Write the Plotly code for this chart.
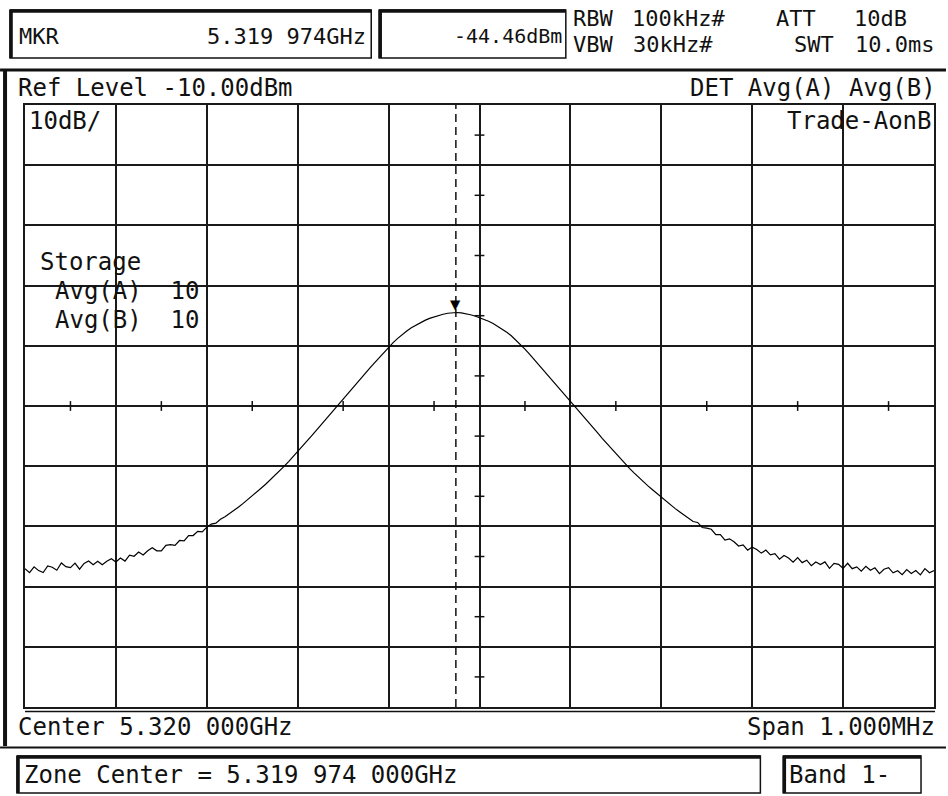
import numpy as np
import plotly.graph_objects as go

# ---------------- data ----------------
CENTER_GHZ = 5.320
SPAN_MHZ = 1.000
N_POINTS = 201
REF_LEVEL_DBM = -10.0
DB_PER_DIV = 10.0
N_DIV = 10

marker_freq_ghz = 5.319974
marker_level_dbm = -44.46

levels_dbm = [
    -87.04, -87.69, -86.71, -87.34, -87.66, -86.58, -86.78, -87.28, -86.08, -86.69,
    -86.84, -86.09, -87.11, -86.14, -85.76, -86.38, -85.78, -86.38, -85.78, -85.37,
    -85.92, -85.26, -85.76, -84.76, -84.96, -84.26, -84.76, -84.06, -83.56, -84.06,
    -84.06, -83.14, -83.04, -83.14, -82.34, -82.42, -81.52, -81.52, -80.82, -80.92,
    -80.12, -79.61, -79.46, -78.80, -78.40, -77.89, -77.34, -76.78, -76.18, -75.57,
    -74.92, -74.27, -73.62, -72.96, -72.26, -71.55, -70.80, -70.04, -69.24, -68.43,
    -67.58, -66.73, -65.88, -65.02, -64.12, -63.23, -62.38, -61.52, -60.62, -59.73,
    -58.88, -58.02, -57.12, -56.22, -55.32, -54.43, -53.58, -52.74, -51.88, -51.04,
    -50.24, -49.46, -48.76, -48.09, -47.54, -47.01, -46.56, -46.13, -45.78, -45.45,
    -45.20, -44.96, -44.76, -44.59, -44.52, -44.47, -44.54, -44.64, -44.84, -45.05,
    -45.30, -45.57, -45.92, -46.29, -46.74, -47.21, -47.76, -48.34, -49.04, -49.76,
    -50.56, -51.37, -52.22, -53.07, -53.92, -54.78, -55.68, -56.58, -57.48, -58.37,
    -59.22, -60.08, -60.98, -61.87, -62.72, -63.58, -64.48, -65.37, -66.22, -67.07,
    -67.92, -68.76, -69.56, -70.35, -71.10, -71.84, -72.54, -73.23, -73.88, -74.53,
    -75.18, -75.82, -76.42, -77.01, -77.56, -78.10, -78.50, -79.19, -79.34, -80.18,
    -80.28, -80.48, -81.38, -81.38, -82.28, -82.06, -82.56, -83.26, -83.06, -83.94,
    -83.44, -83.84, -84.44, -83.94, -84.74, -84.54, -85.44, -84.84, -85.24, -85.93,
    -85.18, -86.02, -85.62, -86.52, -85.92, -86.32, -85.89, -86.97, -86.14, -86.31,
    -86.96, -86.12, -87.02, -86.72, -87.42, -86.62, -87.29, -86.87, -87.84, -87.12,
    -86.86, -87.71, -87.36, -88.01, -87.16, -87.81, -87.33, -88.05, -87.02, -87.70,
    -87.35,
]

# header setting words (line 1 / line 2)
setting_line1 = ["RBW", "100kHz#", "ATT", "10dB"]
setting_line2 = ["VBW", "30kHz#", "SWT", "10.0ms"]

labels = {
    "mkr_label": "MKR",
    "mkr_freq": "5.319 974GHz",
    "mkr_level": "-44.46dBm",
    "ref": "Ref Level -10.00dBm",
    "det": "DET Avg(A) Avg(B)",
    "scale": "10dB/",
    "trace": "Trade-AonB",
    "storage": "Storage",
    "avga": "Avg(A)  10",
    "avgb": "Avg(B)  10",
    "center": "Center 5.320 000GHz",
    "span": "Span 1.000MHz",
    "zone": "Zone Center = 5.319 974 000GHz",
    "band": "Band 1-",
}

# ---------------- derived ----------------
center_mhz = CENTER_GHZ * 1000.0
f_lo = center_mhz - SPAN_MHZ / 2
f_hi = center_mhz + SPAN_MHZ / 2
freqs_mhz = np.linspace(f_lo, f_hi, N_POINTS)
y_top = REF_LEVEL_DBM
y_bot = REF_LEVEL_DBM - DB_PER_DIV * N_DIV
mk_mhz = marker_freq_ghz * 1000.0

W, H = 948, 796
X0, X1, Y0, Y1 = 25, 936, 105, 707


def px(x):
    return (x - X0) / (X1 - X0)


def py(y):
    return (Y1 - y) / (Y1 - Y0)


INK = "#111111"
FONT = "DejaVu Sans Mono"

fig = go.Figure()

fig.add_trace(go.Scatter(
    x=freqs_mhz, y=levels_dbm, mode="lines",
    line=dict(color="#000000", width=1.2), hoverinfo="skip", showlegend=False,
))

# graticule centre-line ticks (at half divisions)
div_f = SPAN_MHZ / N_DIV
half_f = [f_lo + div_f * (i + 0.5) for i in range(N_DIV)]
half_y = [y_bot + DB_PER_DIV * (i + 0.5) for i in range(N_DIV)]
fig.add_trace(go.Scatter(
    x=half_f, y=[y_bot + DB_PER_DIV * N_DIV / 2] * N_DIV, mode="markers",
    marker=dict(symbol="line-ns", size=7, line=dict(color=INK, width=1.5)),
    hoverinfo="skip", showlegend=False,
))
fig.add_trace(go.Scatter(
    x=[center_mhz] * N_DIV, y=half_y, mode="markers",
    marker=dict(symbol="line-ew", size=7, line=dict(color=INK, width=1.5)),
    hoverinfo="skip", showlegend=False,
))

shapes = []
# marker dashed line
shapes.append(dict(type="line", xref="x", yref="y", x0=mk_mhz, x1=mk_mhz, y0=y_bot, y1=y_top,
                   line=dict(color=INK, width=1.5, dash="8px,5px")))


def hline(y, xa, xb, w):
    shapes.append(dict(type="line", xref="paper", yref="paper", x0=px(xa), x1=px(xb),
                       y0=py(y), y1=py(y), line=dict(color=INK, width=w)))


def vline(x, ya, yb, w):
    shapes.append(dict(type="line", xref="paper", yref="paper", x0=px(x), x1=px(x),
                       y0=py(ya), y1=py(yb), line=dict(color=INK, width=w)))


def box(xa, ya, xb, yb):
    shapes.append(dict(type="rect", xref="paper", yref="paper", x0=px(xa), x1=px(xb),
                       y0=py(yb), y1=py(ya), line=dict(color=INK, width=1.5)))
    hline(ya + 1, xa, xb, 3.5)
    vline(xa + 1, ya, yb, 3.5)


# frame
box(10, 10, 372, 58)
box(380, 10, 567, 58)
hline(70, 0, 948, 3)
vline(5, 69, 746, 4)
hline(711.5, 25, 937, 1.5)
hline(747.5, 0, 948, 2)
box(17, 756, 762, 793)
box(785, 756, 923, 793)

annotations = []


def txt(s, x, y, anchor="left", size=24):
    annotations.append(dict(text=s, xref="paper", yref="paper", x=px(x), y=py(y),
                            xanchor=anchor, yanchor="middle", showarrow=False,
                            font=dict(family=FONT, size=size, color=INK)))


L = labels
txt(L["mkr_label"], 17, 36, size=22)
txt(L["mkr_freq"], 369, 36, anchor="right", size=22)
txt(L["mkr_level"], 565, 36, anchor="right", size=20)

# header settings, each word centred in its column
line1_cx = [594, 680, 798, 882]
line2_cx = [594, 674, 816, 896]
for i, word in enumerate(setting_line1):
    txt(word, line1_cx[i], 18.5, anchor="center", size=22)
for i, word in enumerate(setting_line2):
    txt(word, line2_cx[i], 44.5, anchor="center", size=22)

txt(L["ref"], 16, 88)
txt(L["det"], 940, 88, anchor="right")
txt(L["scale"], 27, 121)
txt(L["trace"], 936, 121, anchor="right")
txt(L["storage"], 38, 262)
txt(L["avga"], 53, 291)
txt(L["avgb"], 53, 320)
txt(L["center"], 16, 727)
txt(L["span"], 939, 727, anchor="right")
txt(L["zone"], 22, 775)
txt(L["band"], 789, 775)

# marker triangle
annotations.append(dict(text="\u25BC", xref="x", yref="y", x=mk_mhz, y=marker_level_dbm,
                        xanchor="center", yanchor="bottom", showarrow=False, yshift=-4,
                        font=dict(family=FONT, size=17, color="#000000")))

axis_common = dict(showgrid=True, gridcolor="#1a1a1a", gridwidth=2, zeroline=False,
                   showline=True, linecolor="#1a1a1a", linewidth=2, mirror=True,
                   showticklabels=False, ticks="", fixedrange=True)

fig.update_layout(
    width=W, height=H,
    margin=dict(l=X0, r=W - X1, t=Y0, b=H - Y1, pad=0),
    paper_bgcolor="white", plot_bgcolor="white",
    xaxis=dict(range=[f_lo, f_hi], tick0=f_lo, dtick=div_f, **axis_common),
    yaxis=dict(range=[y_bot, y_top], tick0=y_bot, dtick=DB_PER_DIV, **axis_common),
    shapes=shapes, annotations=annotations, showlegend=False,
)

fig.write_html("out.html", config={"displayModeBar": False})
